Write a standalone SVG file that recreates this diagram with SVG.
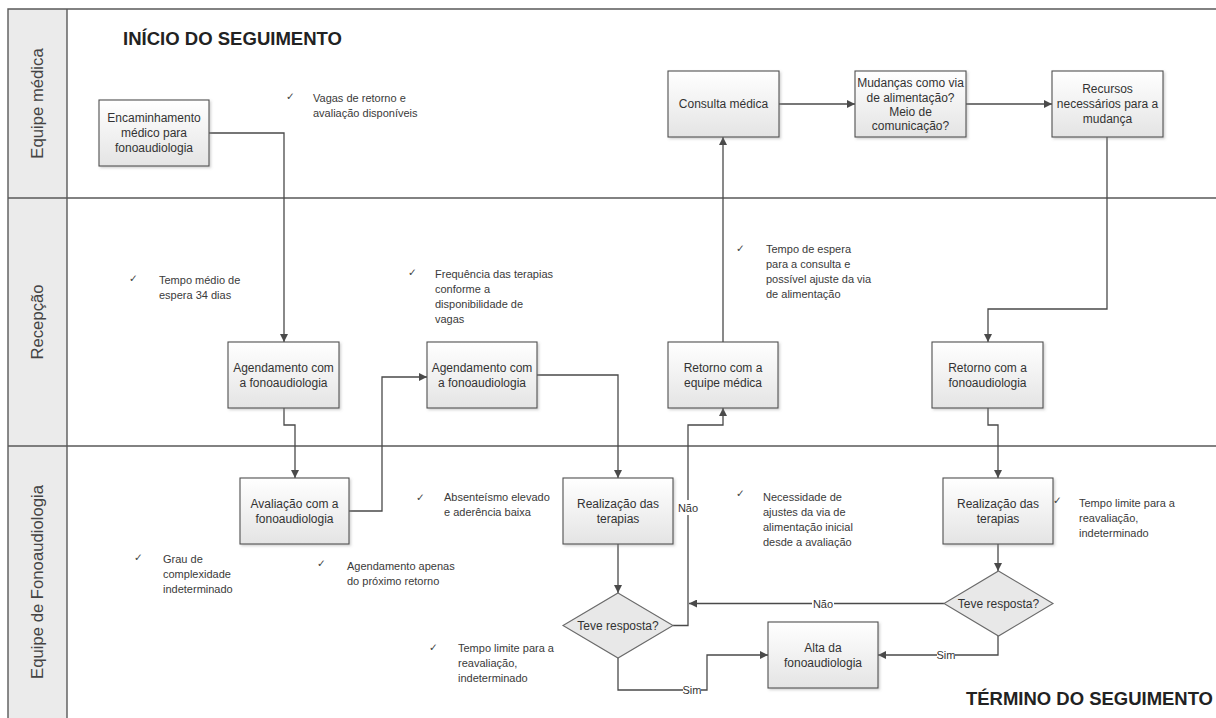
<svg xmlns="http://www.w3.org/2000/svg" width="1216" height="718" viewBox="0 0 1216 718">
  <defs>
    <linearGradient id="boxFill" x1="0" y1="0" x2="0" y2="1">
      <stop offset="0" stop-color="#ffffff"/>
      <stop offset="1" stop-color="#e4e4e4"/>
    </linearGradient>
    <filter id="shadow" x="-10%" y="-10%" width="125%" height="130%">
      <feDropShadow dx="1.5" dy="1.5" stdDeviation="1" flood-color="#8c8c8c" flood-opacity="0.4"/>
    </filter>
    <marker id="arrow" viewBox="0 0 10 10" refX="10" refY="5" markerWidth="8" markerHeight="8" markerUnits="userSpaceOnUse" orient="auto">
      <path d="M0,0 L10,5 L0,10 z" fill="#4a4a4a"/>
    </marker>
  </defs>
  <style>
    .lane { stroke: #5a5a5a; stroke-width: 1.4; fill: none; }
    .laneHead { fill: #ebebeb; }
    .laneTitle { font-family: "Liberation Sans", Arial, sans-serif; font-size: 16.7px; fill: #444; text-anchor: middle; }
    .title { font-family: "Liberation Sans", Arial, sans-serif; font-size: 18px; font-weight: bold; fill: #222; }
    .box { fill: url(#boxFill); stroke: #505050; stroke-width: 1.1; filter: url(#shadow); }
    .dia { fill: #e8e8e8; stroke: #6a6a6a; stroke-width: 1.1; }
    .node text { font-family: "Liberation Sans", Arial, sans-serif; font-size: 12px; fill: #333; text-anchor: middle; }
    .note { font-family: "Liberation Sans", Arial, sans-serif; font-size: 11px; fill: #3a3a3a; }
    .tick { font-family: "DejaVu Sans", sans-serif; font-size: 10.5px; fill: #444; }
    .conn path { stroke: #4a4a4a; stroke-width: 1.3; fill: none; }
    .arr { marker-end: url(#arrow); }
    .lbl rect { fill: #ffffff; }
    .lbl text { font-family: "Liberation Sans", Arial, sans-serif; font-size: 11px; fill: #333; text-anchor: middle; }
  </style>

  <!-- swimlane frame -->
  <g id="lanes">
    <rect class="laneHead" x="8" y="9" width="59" height="709"/>
    <path class="lane" d="M8,718 V9 H1216 M67,9 V718 M8,198 H1216 M8,446 H1216"/>
    <text class="laneTitle" transform="translate(43,103.5) rotate(-90)">Equipe médica</text>
    <text class="laneTitle" transform="translate(43,322) rotate(-90)">Recepção</text>
    <text class="laneTitle" transform="translate(43,582) rotate(-90)">Equipe de Fonoaudiologia</text>
  </g>

  <text class="title" x="123" y="45" textLength="219" lengthAdjust="spacingAndGlyphs">INÍCIO DO SEGUIMENTO</text>
  <text class="title" x="966" y="705" textLength="247" lengthAdjust="spacingAndGlyphs">TÉRMINO DO SEGUIMENTO</text>

  <!-- connectors -->
  <g id="connectors" class="conn">
    <path class="arr" d="M209,133 H284 V342"/>
    <path class="arr" d="M284,408 V425 H295 V478"/>
    <path class="arr" d="M349,511 H382 V377 H427"/>
    <path class="arr" d="M537,375 H618 V478"/>
    <path class="arr" d="M618,544 V593"/>
    <path class="arr" d="M673,625.5 H688 V425 H723 V408"/>
    <path class="arr" d="M723,342 V137"/>
    <path class="arr" d="M779,104 H855"/>
    <path class="arr" d="M966,104 H1052"/>
    <path class="arr" d="M1107,137 V309 H988 V342"/>
    <path class="arr" d="M988,408 V425 H998 V478"/>
    <path class="arr" d="M998,544 V571"/>
    <path class="arr" d="M944,603.5 H689"/>
    <path class="arr" d="M998,636 V655 H878"/>
    <path class="arr" d="M618,658 V690 H707 V655 H768"/>
    <g class="lbl">
      <rect x="678" y="500" width="20" height="15"/>
      <text x="688" y="512">Não</text>
      <rect x="812" y="597" width="22" height="13"/>
      <text x="823" y="607.5">Não</text>
      <rect x="937" y="649" width="18" height="13"/>
      <text x="946" y="659">Sim</text>
      <rect x="683" y="684" width="18" height="13"/>
      <text x="692" y="694">Sim</text>
    </g>
  </g>

  <!-- nodes -->
  <g id="n-encaminhamento" class="node">
    <rect class="box" x="99" y="100" width="110" height="66"/>
    <text x="154" y="122">Encaminhamento</text>
    <text x="154" y="137">médico para</text>
    <text x="154" y="152">fonoaudiologia</text>
  </g>
  <g id="n-consulta" class="node">
    <rect class="box" x="668" y="71" width="111" height="66"/>
    <text x="723.5" y="108">Consulta médica</text>
  </g>
  <g id="n-mudancas" class="node">
    <rect class="box" x="855" y="71" width="111" height="66"/>
    <text x="910.5" y="87">Mudanças como via</text>
    <text x="910.5" y="101.5">de alimentação?</text>
    <text x="910.5" y="115.5">Meio de</text>
    <text x="910.5" y="130">comunicação?</text>
  </g>
  <g id="n-recursos" class="node">
    <rect class="box" x="1052" y="71" width="111" height="66"/>
    <text x="1107.5" y="93">Recursos</text>
    <text x="1107.5" y="108">necessários para a</text>
    <text x="1107.5" y="123">mudança</text>
  </g>
  <g id="n-agendamento1" class="node">
    <rect class="box" x="228" y="342" width="111" height="66"/>
    <text x="283.5" y="371.5">Agendamento com</text>
    <text x="283.5" y="386.5">a fonoaudiologia</text>
  </g>
  <g id="n-agendamento2" class="node">
    <rect class="box" x="427" y="342" width="110" height="66"/>
    <text x="482" y="371.5">Agendamento com</text>
    <text x="482" y="386.5">a fonoaudiologia</text>
  </g>
  <g id="n-retorno-medica" class="node">
    <rect class="box" x="668" y="342" width="110" height="66"/>
    <text x="723" y="371.5">Retorno com a</text>
    <text x="723" y="386.5">equipe médica</text>
  </g>
  <g id="n-retorno-fono" class="node">
    <rect class="box" x="932" y="342" width="111" height="66"/>
    <text x="987.5" y="371.5">Retorno com a</text>
    <text x="987.5" y="386.5">fonoaudiologia</text>
  </g>
  <g id="n-avaliacao" class="node">
    <rect class="box" x="240" y="478" width="109" height="66"/>
    <text x="294.5" y="507.5">Avaliação com a</text>
    <text x="294.5" y="522.5">fonoaudiologia</text>
  </g>
  <g id="n-terapias1" class="node">
    <rect class="box" x="563" y="478" width="110" height="66"/>
    <text x="618" y="507.5">Realização das</text>
    <text x="618" y="522.5">terapias</text>
  </g>
  <g id="n-terapias2" class="node">
    <rect class="box" x="943" y="478" width="110" height="66"/>
    <text x="998" y="507.5">Realização das</text>
    <text x="998" y="522.5">terapias</text>
  </g>
  <g id="n-resposta1" class="node">
    <polygon class="dia" points="618,593 673,625.5 618,658 563,625.5"/>
    <text x="618" y="629.5">Teve resposta?</text>
  </g>
  <g id="n-resposta2" class="node">
    <polygon class="dia" points="998.5,571 1053,603.5 998.5,636 944,603.5"/>
    <text x="998.5" y="607.5">Teve resposta?</text>
  </g>
  <g id="n-alta" class="node">
    <rect class="box" x="768" y="622" width="110" height="66"/>
    <text x="823" y="651.5">Alta da</text>
    <text x="823" y="666.5">fonoaudiologia</text>
  </g>

  <!-- remarks -->
  <g id="notes">
    <text class="tick" x="286" y="100">✓</text>
    <text class="note" x="313" y="102">Vagas de retorno e</text>
    <text class="note" x="313" y="117">avaliação disponíveis</text>

    <text class="tick" x="129" y="282">✓</text>
    <text class="note" x="159" y="284">Tempo médio de</text>
    <text class="note" x="159" y="299">espera 34 dias</text>

    <text class="tick" x="408" y="276">✓</text>
    <text class="note" x="435" y="278">Frequência das terapias</text>
    <text class="note" x="435" y="293">conforme a</text>
    <text class="note" x="435" y="308">disponibilidade de</text>
    <text class="note" x="435" y="323">vagas</text>

    <text class="tick" x="736" y="252">✓</text>
    <text class="note" x="766" y="253">Tempo de espera</text>
    <text class="note" x="766" y="268">para a consulta e</text>
    <text class="note" x="766" y="283">possível ajuste da via</text>
    <text class="note" x="766" y="298">de alimentação</text>

    <text class="tick" x="416" y="501">✓</text>
    <text class="note" x="444" y="501">Absenteísmo elevado</text>
    <text class="note" x="444" y="516">e aderência baixa</text>

    <text class="tick" x="134" y="561">✓</text>
    <text class="note" x="163" y="563">Grau de</text>
    <text class="note" x="163" y="578">complexidade</text>
    <text class="note" x="163" y="593">indeterminado</text>

    <text class="tick" x="317" y="567">✓</text>
    <text class="note" x="347" y="570">Agendamento apenas</text>
    <text class="note" x="347" y="585">do próximo retorno</text>

    <text class="tick" x="736" y="497">✓</text>
    <text class="note" x="763" y="501">Necessidade de</text>
    <text class="note" x="763" y="516">ajustes da via de</text>
    <text class="note" x="763" y="531">alimentação inicial</text>
    <text class="note" x="763" y="546">desde a avaliação</text>

    <text class="tick" x="429" y="651">✓</text>
    <text class="note" x="458" y="652">Tempo limite para a</text>
    <text class="note" x="458" y="667">reavaliação,</text>
    <text class="note" x="458" y="682">indeterminado</text>

    <text class="tick" x="1053" y="504">✓</text>
    <text class="note" x="1079" y="507">Tempo limite para a</text>
    <text class="note" x="1079" y="522">reavaliação,</text>
    <text class="note" x="1079" y="537">indeterminado</text>
  </g>
</svg>
